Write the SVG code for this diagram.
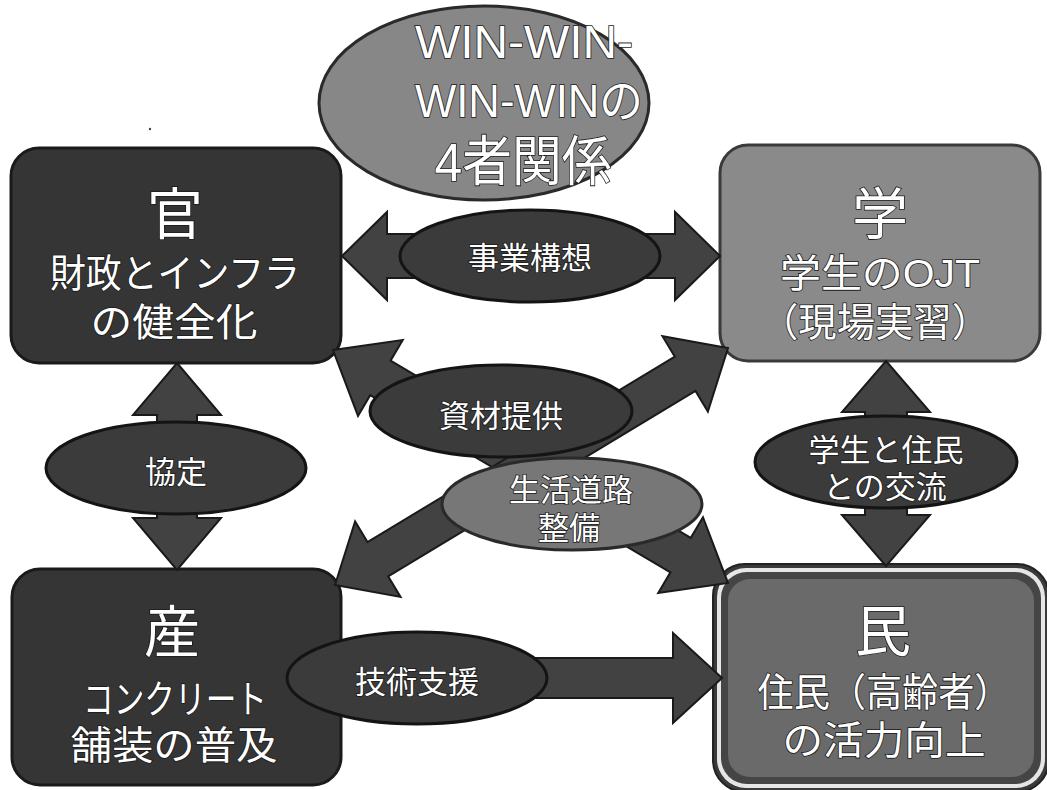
<svg xmlns="http://www.w3.org/2000/svg" width="1047" height="790" viewBox="0 0 1047 790">
<style>
.t{font-family:"Liberation Sans","Noto Sans CJK JP",sans-serif;fill:#ffffff;stroke:#1a1a1a;stroke-width:1.6;paint-order:stroke;text-anchor:middle;dominant-baseline:central}
.big{font-size:56px}
.mid{font-size:39px}
.lbl{font-size:31px}
.arrow{fill:#424242;stroke:#1a1a1a;stroke-width:2;stroke-linejoin:miter}
.lab{fill:#3b3b3b;stroke:#141414;stroke-width:3}
.node-dark{fill:#353535;stroke:#1a1a1a;stroke-width:3}
</style>
<rect width="1047" height="790" fill="#ffffff"/>
<circle cx="150" cy="129" r="1.2" fill="#444"/>

<g id="title">
  <ellipse cx="484" cy="103" rx="165" ry="97" fill="#878787" stroke="#2a2a2a" stroke-width="3"/>
  <text class="t" x="524" y="42" font-size="46" textLength="218" lengthAdjust="spacingAndGlyphs">WIN-WIN-</text>
  <text class="t" x="529" y="101" font-size="46" textLength="228" lengthAdjust="spacingAndGlyphs">WIN-WINの</text>
  <text class="t" x="523" y="162" font-size="54" textLength="177" lengthAdjust="spacingAndGlyphs">4者関係</text>
</g>

<g id="node-kan">
  <rect class="node-dark" x="11" y="148" width="330" height="215" rx="28"/>
  <text class="t big" x="175" y="214">官</text>
  <text class="t mid" x="175" y="273" textLength="250" lengthAdjust="spacingAndGlyphs">財政とインフラ</text>
  <text class="t mid" x="174" y="322" textLength="167" lengthAdjust="spacingAndGlyphs">の健全化</text>
</g>

<g id="node-gaku">
  <rect x="720" y="145" width="320" height="216" rx="28" fill="#8a8a8a" stroke="#3a3a3a" stroke-width="3"/>
  <text class="t big" x="880" y="214">学</text>
  <text class="t mid" x="880" y="273" textLength="200" lengthAdjust="spacingAndGlyphs">学生のOJT</text>
  <text class="t mid" x="875" y="322" textLength="230" lengthAdjust="spacingAndGlyphs">（現場実習）</text>
</g>

<g id="node-san">
  <rect class="node-dark" x="12" y="569" width="329" height="216" rx="28"/>
  <text class="t big" x="172" y="632">産</text>
  <text class="t mid" x="175" y="699" textLength="184" lengthAdjust="spacingAndGlyphs">コンクリート</text>
  <text class="t mid" x="174" y="745" textLength="207" lengthAdjust="spacingAndGlyphs">舗装の普及</text>
</g>

<g id="node-min">
  <rect x="713" y="564" width="336" height="228" rx="32" fill="#3a3a3a" stroke="#222" stroke-width="2"/>
  <rect x="717" y="568" width="328" height="220" rx="29" fill="#e6e6e6"/>
  <rect x="721" y="572" width="320" height="212" rx="26" fill="#454545"/>
  <rect x="728" y="579" width="306" height="198" rx="22" fill="#6a6a6a"/>
  <text class="t big" x="883" y="631">民</text>
  <text class="t mid" x="884" y="692" textLength="253" lengthAdjust="spacingAndGlyphs">住民（高齢者）</text>
  <text class="t mid" x="884" y="740" textLength="203" lengthAdjust="spacingAndGlyphs">の活力向上</text>
</g>

<g id="connectors">
  <polygon class="arrow" points="342,256 387,212 387,234 675,234 675,212 720,256 675,300 675,278 387,278 387,300"/>
  <polygon class="arrow" points="177,363 221,415 197,415 197,518 221,518 177,570 133,518 157,518 157,415 133,415"/>
  <polygon class="arrow" points="886,361 930,412 907,412 907,515 930,515 886,566 842,515 865,515 865,412 842,412"/>
  <polygon class="arrow" points="340,658 673,658 673,633 722,678 673,723 673,698 340,698"/>
  <polygon class="arrow" transform="translate(333 350) rotate(30.54)" points="0,0 55,-44 55,-20 403.6,-20 403.6,-44 458.6,0 403.6,44 403.6,20 55,20 55,44"/>
  <polygon class="arrow" transform="translate(335 585) rotate(-31.09)" points="0,0 50,-44 50,-20 408.9,-20 408.9,-44 458.9,0 408.9,44 408.9,20 50,20 50,44"/>

  <g id="label-jigyo">
    <ellipse class="lab" cx="530" cy="256" rx="130" ry="46"/>
    <text class="t lbl" x="530" y="258">事業構想</text>
  </g>
  <g id="label-shizai">
    <ellipse class="lab" cx="501" cy="411" rx="131" ry="46"/>
    <text class="t lbl" x="501" y="416">資材提供</text>
  </g>
  <g id="label-seikatsu">
    <ellipse cx="572" cy="504" rx="130" ry="46" fill="#777777" stroke="#2a2a2a" stroke-width="3"/>
    <text class="t lbl" x="571" y="490">生活道路</text>
    <text class="t lbl" x="569" y="528">整備</text>
  </g>
  <g id="label-kyotei">
    <ellipse class="lab" cx="176" cy="468" rx="130" ry="46"/>
    <text class="t lbl" x="176" y="472">協定</text>
  </g>
  <g id="label-koryu">
    <ellipse class="lab" cx="886" cy="462" rx="131" ry="46"/>
    <text class="t lbl" x="886" y="450">学生と住民</text>
    <text class="t lbl" x="885" y="487">との交流</text>
  </g>
  <g id="label-gijutsu">
    <ellipse class="lab" cx="417" cy="678" rx="130" ry="46"/>
    <text class="t lbl" x="417" y="682">技術支援</text>
  </g>
</g>
</svg>
